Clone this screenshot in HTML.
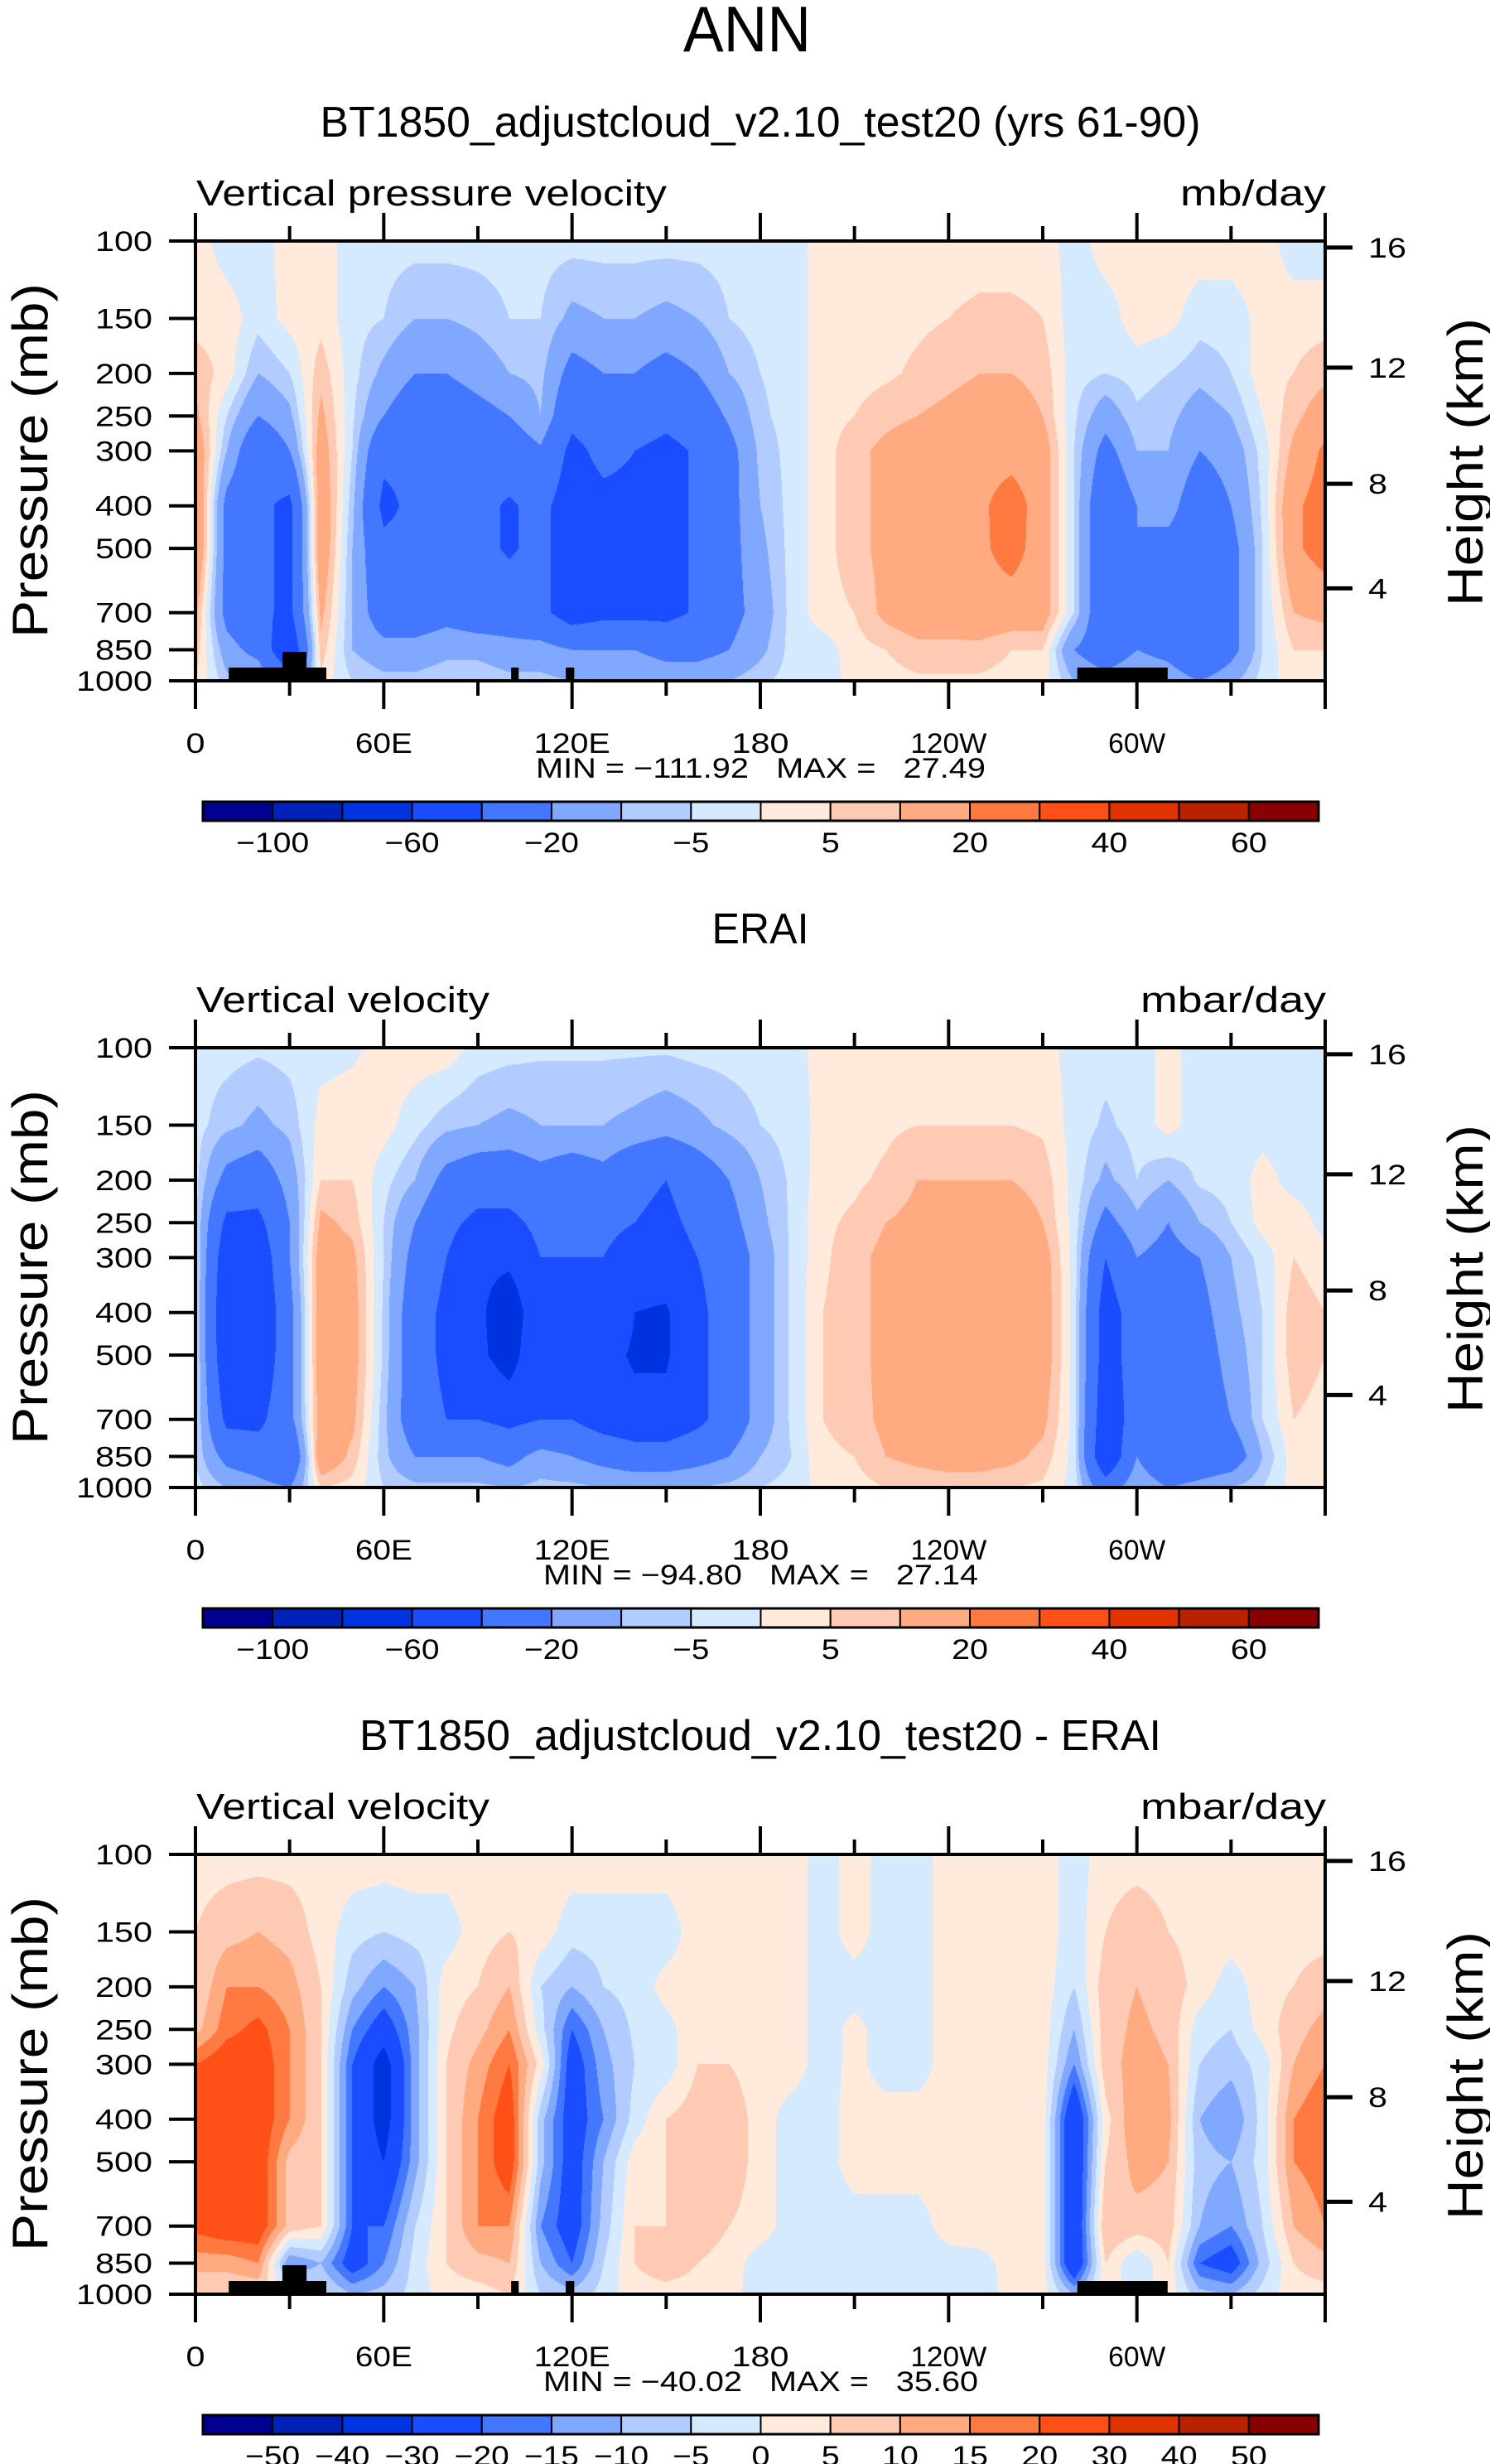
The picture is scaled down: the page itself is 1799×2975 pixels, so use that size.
<!DOCTYPE html>
<html><head><meta charset="utf-8">
<style>
html,body{margin:0;padding:0;background:#fff;}
#root{position:relative;width:1799px;height:2975px;overflow:hidden;background:#fff;}
canvas{position:absolute;}
svg{position:absolute;left:0;top:0;}
text{font-family:"Liberation Sans",sans-serif;fill:#000;}
</style></head>
<body>
<div id="root">
<canvas id="c0" width="1364" height="531" style="left:236px;top:291px"></canvas>
<canvas id="c1" width="1364" height="531" style="left:236px;top:1265px"></canvas>
<canvas id="c2" width="1364" height="531" style="left:236px;top:2239px"></canvas>
<svg id="ov" width="1799" height="2975"></svg>
</div>
<script>
const lons = [0,10,20,30,40,50,60,70,80,90,100,110,120,130,140,150,160,170,180,190,200,210,220,230,240,250,260,270,280,290,300,310,320,330,340,350,360];
const plevs = [100,150,200,250,300,400,500,700,850,1000];
const modelVals = [
[3,-3,-3,3,3,-3,-3,-3,-3,-3,-3,-3,-3,-3,-3,-3,-3,-3,-3,-3,3,3,3,3,3,3,3,3,-3,3,3,3,3,3,3,-3,-3],
[3,3,-3,2,3,-3,-5,-10,-10,-8,-5,-5,-12,-10,-10,-12,-10,-5,-3,-3,3,3,3,4,5,6,6,5,-3,-3,3,2,-3,-3,2,3,3],
[8,3,-10,-5,8,-3,-12,-20,-20,-15,-10,-8,-25,-20,-20,-25,-20,-10,-5,-3,3,3,4,6,8,10,10,8,-3,-5,-3,-5,-8,-5,3,5,8],
[12,-5,-20,-12,12,-4,-20,-30,-30,-25,-20,-10,-35,-30,-30,-35,-30,-18,-6,-3,3,5,8,10,12,14,14,10,-4,-15,-6,-8,-14,-10,0,8,15],
[18,-10,-35,-20,15,-5,-35,-35,-35,-35,-30,-22,-45,-35,-40,-45,-38,-25,-8,-3,3,8,12,15,15,16,16,15,-5,-25,-10,-10,-20,-15,-3,12,22],
[22,-25,-35,-45,18,-8,-45,-35,-35,-35,-42,-35,-50,-45,-45,-45,-38,-25,-10,-3,3,8,12,15,15,18,25,15,-5,-35,-20,-15,-30,-20,-4,18,25],
[22,-25,-35,-45,18,-10,-35,-35,-35,-35,-42,-35,-50,-45,-45,-45,-38,-25,-12,-3,3,8,12,15,15,18,24,15,-5,-35,-20,-25,-30,-25,-5,18,25],
[12,-25,-35,-45,12,-10,-30,-30,-25,-30,-30,-35,-50,-45,-45,-45,-38,-25,-15,-3,3,5,12,15,15,16,15,15,-5,-35,-20,-25,-30,-25,-5,10,12],
[8,-15,-25,-60,8,-10,-15,-15,-12,-12,-15,-15,-20,-20,-20,-25,-25,-20,-12,-3,-3,3,5,8,8,8,5,5,-20,-30,-20,-25,-40,-25,-5,5,5],
[5,-8,-10,-30,3,-5,-8,-8,-6,-6,-8,-8,-10,-10,-10,-12,-12,-10,-6,-3,-3,2,3,4,4,4,3,3,-10,-15,-10,-12,-20,-12,-3,3,3]
];
const eraiVals = [
[-3,-3,-4,-3,-2,-1,2,3,3,-2,-3,-4,-4,-4,-4,-4,-3,-3,-3,-2,2,2,2,2,2,2,2,2,-2,-3,-3,2,-3,-3,-3,-3,-3],
[-3,-8,-12,-8,2,3,2,-3,-8,-10,-12,-10,-10,-10,-12,-15,-12,-8,-5,-3,2,3,4,5,5,5,5,4,-2,-6,-3,2,-3,-3,-2,-2,-3],
[-3,-25,-30,-15,5,5,-3,-10,-25,-30,-30,-25,-30,-25,-35,-40,-30,-20,-10,-4,3,4,6,10,10,10,10,8,-2,-12,-5,-10,-4,-3,2,-2,-3],
[-3,-45,-45,-20,12,8,-5,-20,-35,-45,-45,-35,-35,-35,-40,-45,-35,-25,-12,-4,4,6,10,12,14,14,14,10,-2,-25,-12,-20,-10,-5,2,3,-2],
[-2,-55,-55,-20,15,12,-5,-25,-40,-55,-55,-40,-40,-40,-50,-50,-40,-30,-15,-4,4,8,12,15,16,16,16,14,-2,-40,-20,-25,-20,-10,-3,5,2],
[-2,-60,-60,-25,16,14,-6,-30,-45,-55,-75,-42,-42,-45,-60,-62,-45,-30,-15,-4,5,8,12,16,17,17,16,15,-2,-50,-30,-40,-25,-12,-5,8,5],
[-2,-58,-58,-25,16,14,-6,-30,-45,-55,-70,-40,-42,-55,-62,-62,-45,-30,-15,-4,5,8,12,16,17,17,16,15,-2,-50,-30,-40,-28,-15,-5,8,5],
[-3,-45,-45,-25,15,12,-8,-30,-40,-40,-45,-40,-40,-50,-55,-55,-45,-30,-15,-4,5,7,12,15,17,16,15,12,-2,-55,-30,-40,-30,-20,-5,5,3],
[-5,-25,-30,-40,18,8,-8,-20,-20,-20,-25,-15,-20,-25,-30,-30,-25,-20,-10,-5,4,5,10,12,14,14,12,8,-2,-60,-20,-40,-35,-30,-10,3,2],
[-3,-10,-15,-20,5,3,-5,-8,-8,-8,-10,-8,-8,-10,-10,-10,-10,-8,-5,-3,2,3,5,6,6,6,5,4,-2,-30,-10,-20,-15,-10,-5,2,2]
];
const diffVals = [
[3,3,3,3,3,3,3,3,3,3,3,3,3,3,3,3,3,3,3,3,-3,3,-3,-3,3,3,3,3,-3,3,3,3,3,3,3,3,3],
[5,8,10,8,3,-3,-5,-3,-3,3,5,3,-3,-3,-3,-3,3,3,3,3,-3,3,-3,-3,3,3,3,3,-3,5,8,5,3,3,3,3,3],
[5,15,15,12,5,-8,-15,-10,3,5,10,-5,-10,-5,-3,2,3,3,3,3,-3,-3,-3,-3,3,3,3,3,-5,8,10,8,3,-3,3,5,8],
[8,18,22,15,5,-15,-25,-12,4,8,15,-3,-20,-10,-4,-2,4,4,3,3,-3,2,-3,-3,3,3,3,3,-10,8,11,9,-3,-5,2,8,12],
[20,25,25,15,5,-20,-35,-12,5,12,20,3,-25,-12,-5,-3,5,5,3,3,-3,2,-3,-3,3,3,3,3,-15,8,12,10,-5,-8,-3,10,15],
[22,25,25,15,5,-20,-35,-12,5,15,25,-8,-25,-15,-3,5,8,8,3,-3,-3,3,3,3,3,3,3,3,-30,3,15,12,-10,-15,-3,15,20],
[22,25,25,8,5,-20,-30,-12,5,15,25,-8,-25,-10,3,5,8,8,3,-3,-3,3,3,3,3,3,3,3,-30,5,12,10,-8,-10,-3,15,18],
[22,25,25,8,5,-20,-20,-5,5,15,15,-15,-25,-8,5,5,8,5,3,-3,-3,-3,-3,-3,3,5,5,3,-30,10,8,8,-10,-15,-5,10,15],
[12,12,15,-15,-10,-25,-15,-3,5,8,10,-10,-20,-5,5,8,5,3,-3,-3,-5,-3,-3,-3,-3,-3,3,3,-30,5,-5,5,-20,-25,-8,5,8],
[5,5,5,0,-3,-10,-8,-3,3,3,5,-5,-8,-3,3,3,3,2,-3,-3,-3,-3,-3,-3,-3,-3,2,2,-10,3,-3,3,-8,-10,-3,3,3]
];
const levelsAbs = [-100,-80,-60,-40,-20,-10,-5,0,5,10,20,30,40,50,60];
const levelsDiff = [-50,-40,-30,-20,-15,-10,-5,0,5,10,15,20,30,40,50];
const cbLabelsAbs = ["−100","","−60","","−20","","−5","","5","","20","","40","","60"];
const cbLabelsDiff = ["−50","−40","−30","−20","−15","−10","−5","0","5","10","15","20","30","40","50"];
const palette = ["#000090","#0022b8","#0033e0","#1a4dff","#4477ff","#80a8ff","#b3ccff","#d6eaff","#ffeadb","#ffcab3","#ffaa80","#ff7a40","#ff5018","#e03300","#b82200","#880000"];
const xTickLons = [0,30,60,90,120,150,180,210,240,270,300,330,360];
const xTickLabels = ["0","","60E","","120E","","180","","120W","","60W","",""];
const yTickP = [100,150,200,250,300,400,500,700,850,1000];
const yTickLabels = ["100","150","200","250","300","400","500","700","850","1000"];
const hTickKm = [4,8,12,16];
const hTickP = [616.4,356.5,194.0,103.5];
const topoLon0 = [10.6,27.7,100.6,118,281];
const topoLon1 = [41.7,35.4,103,120.7,309.8];
const topoP = [933,859,933,933,933];

const PL=236, PW=1364, PH=531;
const panelTops=[291,1265,2239];
function xOf(lon){return PL+lon*PW/360;}
function yOf(p,top){return top+(Math.log10(p)-2)*PH;}
function hex(c){return [parseInt(c.substr(1,2),16),parseInt(c.substr(3,2),16),parseInt(c.substr(5,2),16)];}
const rgb=palette.map(hex);
const logP=plevs.map(p=>Math.log10(p));

function drawField(id,vals,levels){
  const cv=document.getElementById(id),ctx=cv.getContext('2d');
  const img=ctx.createImageData(PW,PH);
  for(let py=0;py<PH;py++){
    const lp=2+(py+0.5)/PH;
    let k=0; while(k<logP.length-2 && lp>logP[k+1]) k++;
    let tv=(lp-logP[k])/(logP[k+1]-logP[k]); tv=Math.max(0,Math.min(1,tv));
    for(let px=0;px<PW;px++){
      const lon=(px+0.5)*360/PW;
      let i=0; while(i<lons.length-2 && lon>lons[i+1]) i++;
      const tu=(lon-lons[i])/(lons[i+1]-lons[i]);
      const v=(1-tv)*((1-tu)*vals[k][i]+tu*vals[k][i+1])+tv*((1-tu)*vals[k+1][i]+tu*vals[k+1][i+1]);
      let ci=0; while(ci<levels.length && v>=levels[ci]) ci++;
      const c=rgb[ci], o=(py*PW+px)*4;
      img.data[o]=c[0];img.data[o+1]=c[1];img.data[o+2]=c[2];img.data[o+3]=255;
    }
  }
  ctx.putImageData(img,0,0);
}
drawField('c0',modelVals,levelsAbs);
drawField('c1',eraiVals,levelsAbs);
drawField('c2',diffVals,levelsDiff);

const NS="http://www.w3.org/2000/svg", ov=document.getElementById('ov');
function el(tag,attrs){const e=document.createElementNS(NS,tag);for(const k in attrs)e.setAttribute(k,attrs[k]);ov.appendChild(e);return e;}
function txt(s,x,y,size,anchor,len){const e=el('text',{x:x,y:y,'font-size':size,'text-anchor':anchor||'start'});if(len){e.setAttribute('textLength',len);e.setAttribute('lengthAdjust','spacingAndGlyphs');}e.textContent=s;return e;}

let t=txt("ANN",902,62,78,'middle',154);



const subtitles=["BT1850_adjustcloud_v2.10_test20 (yrs 61-90)","ERAI","BT1850_adjustcloud_v2.10_test20 - ERAI"];
const subLens=[1063,117,968];
const leftLab=["Vertical pressure velocity","Vertical velocity","Vertical velocity"];
const leftLens=[568,354,354];
const units=["mb/day","mbar/day","mbar/day"];
const unitLens=[176,224,224];
const minmax=["MIN = −111.92   MAX =   27.49","MIN = −94.80   MAX =   27.14","MIN = −40.02   MAX =   35.60"];
const mmX=[647,656,656];
const mmLen=[543,525,525];

for(let pi=0;pi<3;pi++){
  const top=panelTops[pi], dy=pi*974, bot=top+PH;
  t=txt(subtitles[pi],918,165+dy,52,'middle',subLens[pi]);
  
  
  t=txt(leftLab[pi],237,248+dy,44,'start',leftLens[pi]);
  
  
  t=txt(units[pi],1601,248+dy,44,'end',unitLens[pi]);
  
  
  for(let j=0;j<topoLon0.length;j++){
    if(pi===1) break;
    const r=el('rect',{x:xOf(topoLon0[j]),y:yOf(topoP[j],top),width:xOf(topoLon1[j])-xOf(topoLon0[j]),height:bot-yOf(topoP[j],top),fill:'#000'});
    
    
  }
  const fr=el('rect',{x:PL,y:top,width:PW,height:PH,fill:'none',stroke:'#000','stroke-width':4});
  
  
  xTickLons.forEach((lon,i)=>{
    const major=(i%2===0);const x=xOf(lon);
    const L=major?34:18;
    let a=el('line',{x1:x,y1:top,x2:x,y2:top-L,stroke:'#000','stroke-width':4});
    
    
    a=el('line',{x1:x,y1:bot,x2:x,y2:bot+L,stroke:'#000','stroke-width':4});
    
    
    if(xTickLabels[i]){
      const tt=txt(xTickLabels[i],x,909+dy,34,'middle',xTickLabels[i].length*23);
      
      
    }
  });
  yTickP.forEach((p,i)=>{
    const y=yOf(p,top);
    const a=el('line',{x1:PL,y1:y,x2:PL-32,y2:y,stroke:'#000','stroke-width':4});
    
    
    const tt=txt(yTickLabels[i],184,y+12,34,'end',yTickLabels[i].length*23);
    
    
  });
  hTickP.forEach((p,i)=>{
    const y=yOf(p,top);
    const a=el('line',{x1:PL+PW,y1:y,x2:PL+PW+33,y2:y,stroke:'#000','stroke-width':5});
    
    
    const s=String(hTickKm[i]);
    const tt=txt(s,1652,y+12,34,'start',s.length*23);
    
    
  });
  let at=el('text',{x:0,y:0,'font-size':60,'text-anchor':'middle',transform:`translate(57,${556+dy}) rotate(-90)`,textLength:428,lengthAdjust:'spacingAndGlyphs'});
  at.textContent="Pressure (mb)";
  
  
  at=el('text',{x:0,y:0,'font-size':60,'text-anchor':'middle',transform:`translate(1790,${558+dy}) rotate(-90)`,textLength:348,lengthAdjust:'spacingAndGlyphs'});
  at.textContent="Height (km)";
  
  
  t=txt(minmax[pi],mmX[pi],939+dy,34,'start',mmLen[pi]);
  t.setAttribute('style','white-space:pre');
  
  
  const cbX=245, cbW=1347, cbY=968+dy, cbH=23, bw=cbW/16;
  const lv=(pi===2)?levelsDiff:levelsAbs, lab=(pi===2)?cbLabelsDiff:cbLabelsAbs;
  palette.forEach((c,i)=>{
    const r=el('rect',{x:cbX+i*bw,y:cbY,width:bw,height:cbH,fill:c,stroke:'#000','stroke-width':2});
    
    
  });
  const ob=el('rect',{x:cbX,y:cbY,width:cbW,height:cbH,fill:'none',stroke:'#000','stroke-width':3});
  
  
  lv.forEach((v,i)=>{
    if(!lab[i]) return;
    const tt=txt(lab[i],cbX+(i+1)*bw,1029+dy,34,'middle',lab[i].length*22);
    
    
  });
}
</script>
</body></html>
